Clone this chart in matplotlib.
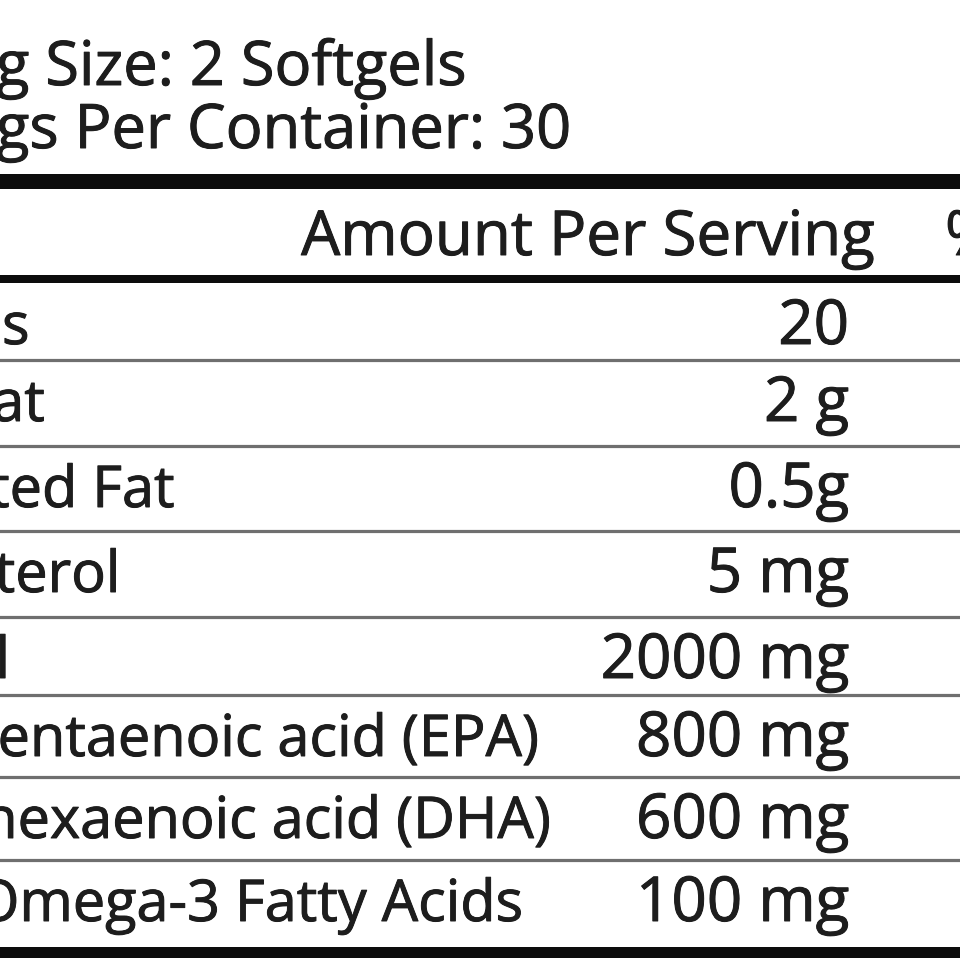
import matplotlib
matplotlib.use("Agg")
import matplotlib.pyplot as plt
import matplotlib.patheffects as pe

# ---- data ----
header_lines = ["Serving Size: 2 Softgels", "Servings Per Container: 30"]
column_titles = ["Amount Per Serving", "% Daily Value*"]
nutrients = [
    "Calories",
    "Total Fat",
    "Saturated Fat",
    "Cholesterol",
    "Fish Oil",
    "Eicosapentaenoic acid (EPA)",
    "Docosahexaenoic acid (DHA)",
    "Other Omega-3 Fatty Acids",
]
amounts = ["20", "2 g", "0.5g", "5 mg", "2000 mg", "800 mg", "600 mg", "100 mg"]

# ---- layout (pixel coordinates, y grows downward) ----
W = H = 960
row_edges = [283, 360, 446, 531, 617, 695, 777, 860, 947]
label_left = [-186, -186, -186, -186, -186, -206, -216, -197]
header_baselines = [85, 148]
header_x = -181
amount_right = 849
title_baseline = 255
amount_title_right = 874
dv_title_left = 945
ink = "#1d1d1d"
fam = ["Open Sans", "DejaVu Sans"]
amount_size = 44.6
label_size = 41.5
head_size = 44.2
fx = [pe.withStroke(linewidth=0.7, foreground=ink)]

fig = plt.figure(figsize=(9.6, 9.6), dpi=100, facecolor="white")
ax = fig.add_axes([0, 0, 1, 1])
ax.set_xlim(0, W)
ax.set_ylim(H, 0)
ax.axis("off")


def put(x, y, s, ha, size):
    ax.text(x, y, s, ha=ha, va="baseline", fontsize=size, family=fam,
            color=ink, clip_on=False, path_effects=fx)


for txt, yb in zip(header_lines, header_baselines):
    put(header_x, yb, txt, "left", head_size)

# thick rules
ax.axhline(180.5, color="#0c0c0c", lw=15 * 0.72)
ax.axhline(279, color="#0c0c0c", lw=8 * 0.72)
ax.axhline(row_edges[-1] + 5, color="#0c0c0c", lw=11 * 0.72)

put(amount_title_right, title_baseline, column_titles[0], "right", amount_size)
put(dv_title_left, title_baseline, column_titles[1], "left", amount_size)

# thin rules between rows
for y in row_edges[1:-1]:
    ax.axhline(y, color="#6f6f6f", lw=3.2 * 0.72)

for i, (name, amt) in enumerate(zip(nutrients, amounts)):
    yb = row_edges[i] + 61
    put(label_left[i], yb, name, "left", label_size)
    put(amount_right, yb, amt, "right", amount_size)

fig.savefig("out.png", dpi=100, facecolor="white")
